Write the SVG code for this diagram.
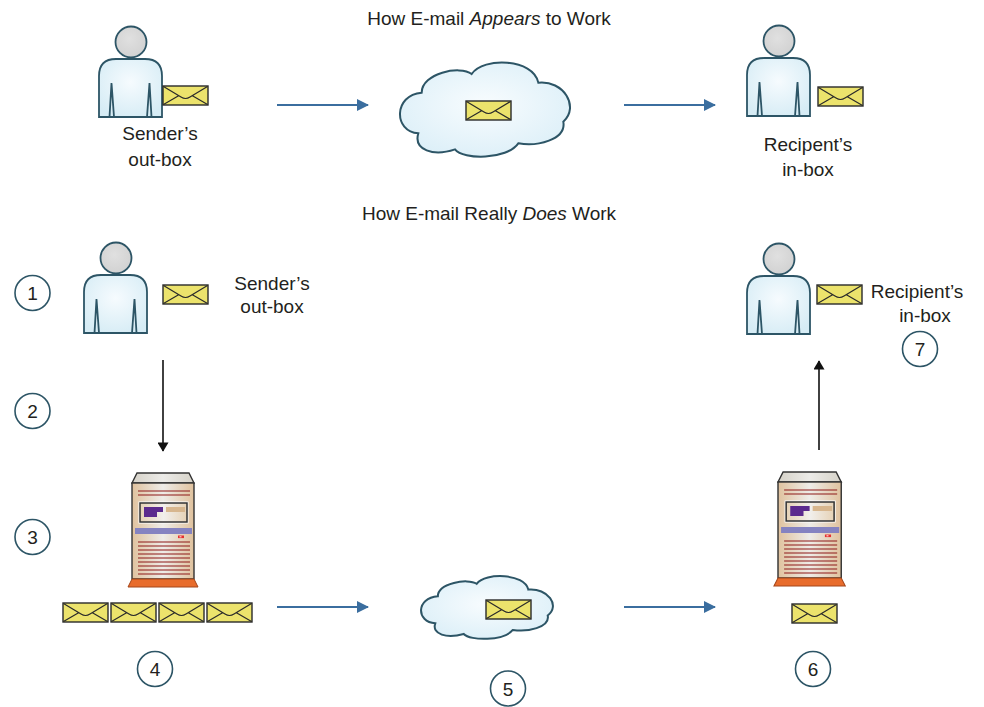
<svg xmlns="http://www.w3.org/2000/svg" xmlns:xlink="http://www.w3.org/1999/xlink" width="984" height="707" viewBox="0 0 984 707">
  <style>
    .lbl { font-family: "Liberation Sans", Arial, sans-serif; font-size: 19px; fill: #231f20; }
    .num { font-family: "Liberation Sans", Arial, sans-serif; font-size: 19px; fill: #231f20; text-anchor: middle; }
    .ring { fill: #ffffff; stroke: #2d5566; stroke-width: 1.6; }
    .outline { stroke: #2d5566; stroke-width: 1.8; }
    .flow { stroke: #3b6e9f; stroke-width: 2; fill: none; }
    .step { stroke: #111111; stroke-width: 1.6; fill: none; }
    .env { fill: #ece36c; stroke: #2a2a2a; stroke-width: 1.4; }
    .envline { fill: none; stroke: #2a2a2a; stroke-width: 1.2; }
    .redline { stroke: #8e1818; stroke-width: 1.1; }
    .cloud { fill: url(#cloudFill); stroke: #2d5566; stroke-width: 2; vector-effect: non-scaling-stroke; }
  </style>
  <defs>
    <radialGradient id="bodyFill" cx="50%" cy="40%" r="65%">
      <stop offset="0" stop-color="#f6fbfe"/>
      <stop offset="1" stop-color="#d6ecf5"/>
    </radialGradient>
    <radialGradient id="headFill" cx="45%" cy="40%" r="60%">
      <stop offset="0" stop-color="#e0e0e0"/>
      <stop offset="1" stop-color="#d2d2d2"/>
    </radialGradient>
    <radialGradient id="cloudFill" cx="50%" cy="45%" r="60%">
      <stop offset="0" stop-color="#f8fcfe"/>
      <stop offset="1" stop-color="#dceff8"/>
    </radialGradient>
    <linearGradient id="caseFill" x1="0" y1="0" x2="1" y2="0">
      <stop offset="0" stop-color="#e0c29e"/>
      <stop offset="0.5" stop-color="#eeece8"/>
      <stop offset="1" stop-color="#e0c29e"/>
    </linearGradient>
    <linearGradient id="lidFill" x1="0" y1="0" x2="1" y2="0">
      <stop offset="0" stop-color="#d6d2c8"/>
      <stop offset="0.5" stop-color="#ecebe8"/>
      <stop offset="1" stop-color="#d6d2c8"/>
    </linearGradient>
    <linearGradient id="screenFill" x1="0" y1="0" x2="1" y2="0">
      <stop offset="0" stop-color="#e6d2b6"/>
      <stop offset="0.5" stop-color="#f1efec"/>
      <stop offset="1" stop-color="#e6d2b6"/>
    </linearGradient>

    <marker id="blueHead" markerUnits="userSpaceOnUse" markerWidth="12" markerHeight="12" viewBox="0 0 12 12" refX="11" refY="6" orient="auto">
      <path d="M0,0 L12,6 L0,12 Z" fill="#3b6e9f"/>
    </marker>
    <marker id="blackHead" markerUnits="userSpaceOnUse" markerWidth="13" markerHeight="11" viewBox="0 0 11 13" refX="10" refY="6.5" orient="auto">
      <path d="M0,0 L11,6.5 L0,13 Z" fill="#111111"/>
    </marker>

    <!-- envelope, 45 x 19 -->
    <g id="envelope">
      <rect class="env" x="0" y="0" width="45" height="19"/>
      <path class="envline" d="M0.5,0.5 L18,11 Q22.5,14 27,11 L44.5,0.5 M0.5,18.5 L16,9.6 M44.5,18.5 L29,9.6"/>
    </g>

    <!-- person: body box 63 x 58 with the head above -->
    <g id="person">
      <path class="outline" fill="url(#bodyFill)" d="M0,58 L0,17 Q0,0 17,0 L46,0 Q63,0 63,17 L63,58 Z"/>
      <path class="outline" fill="none" stroke-width="1.3" d="M12.5,24 L10.5,58 M12.5,24 L15,58 M50.5,24 L48,58 M50.5,24 L52.5,58"/>
      <circle class="outline" fill="url(#headFill)" cx="32" cy="-17" r="15.5"/>
    </g>

    <!-- cloud outline -->
    <path id="cloudShape" class="cloud" d="M95,128 C95,70 210,45 245,72 C280,20 430,25 445,98 C520,90 570,170 520,215 C530,270 440,290 385,280 C350,330 220,330 195,298 C130,320 70,300 85,250 C10,245 10,135 95,128 Z"/>

    <!-- tower server, body 62 wide -->
    <g id="server">
      <polygon points="5,0 57,0 62,10 0,10" fill="url(#lidFill)" stroke="#333333" stroke-width="1.4"/>
      <rect x="0" y="10" width="62" height="96" fill="url(#caseFill)" stroke="#333333" stroke-width="1.4"/>
      <polygon points="0,106 62,106 66,114 -4,114" fill="#e86c2c" stroke="#a4461a" stroke-width="1"/>
      <line class="redline" x1="6" y1="18" x2="58" y2="18"/>
      <line class="redline" x1="6" y1="22" x2="58" y2="22"/>
      <rect x="6.5" y="28.5" width="50" height="22" fill="#ffffff"/>
      <rect x="8" y="30" width="47" height="19" fill="url(#screenFill)" stroke="#333333" stroke-width="1.5"/>
      <path d="M12,34 H31 V39 H25 V44 H12 Z" fill="#5b2a8e"/>
      <rect x="34" y="34" width="19" height="5" fill="#d7b68e"/>
      <rect x="3" y="55" width="57" height="6" fill="#8583c1"/>
      <rect x="46" y="62.5" width="6" height="2.6" fill="#e53030"/>
      <rect x="47.5" y="63.2" width="2" height="1.2" fill="#ffd0d0"/>
      <g class="redline">
        <line x1="6" y1="69" x2="58" y2="69"/>
        <line x1="6" y1="73" x2="58" y2="73"/>
        <line x1="6" y1="77" x2="58" y2="77"/>
        <line x1="6" y1="81" x2="58" y2="81"/>
        <line x1="6" y1="85" x2="58" y2="85"/>
        <line x1="6" y1="89" x2="58" y2="89"/>
        <line x1="6" y1="93" x2="58" y2="93"/>
        <line x1="6" y1="97" x2="58" y2="97"/>
        <line x1="6" y1="101" x2="58" y2="101"/>
      </g>
    </g>
  </defs>

  <rect width="984" height="707" fill="#ffffff"/>

  <!-- headings -->
  <text class="lbl" x="489" y="25" text-anchor="middle">How E-mail <tspan font-style="italic">Appears</tspan> to Work</text>
  <text class="lbl" x="489" y="220" text-anchor="middle">How E-mail Really <tspan font-style="italic">Does</tspan> Work</text>

  <!-- ===== upper row: apparent path ===== -->
  <g id="sender-top">
    <use xlink:href="#person" href="#person" transform="translate(99,59)"/>
    <use xlink:href="#envelope" href="#envelope" x="163" y="86"/>
    <text class="lbl" x="160" y="140" text-anchor="middle">Sender’s</text>
    <text class="lbl" x="160" y="166" text-anchor="middle">out-box</text>
  </g>

  <g id="cloud-top">
    <use xlink:href="#cloudShape" href="#cloudShape" transform="translate(390,50) scale(0.3333)"/>
    <use xlink:href="#envelope" href="#envelope" x="466" y="101"/>
  </g>

  <g id="recipient-top">
    <use xlink:href="#person" href="#person" transform="translate(747,58)"/>
    <use xlink:href="#envelope" href="#envelope" x="818" y="87"/>
    <text class="lbl" x="808" y="151" text-anchor="middle">Recipent’s</text>
    <text class="lbl" x="808" y="176" text-anchor="middle">in-box</text>
  </g>

  <!-- ===== lower row: actual path ===== -->
  <g id="sender-bottom">
    <use xlink:href="#person" href="#person" transform="translate(84,275)"/>
    <use xlink:href="#envelope" href="#envelope" x="163" y="285"/>
    <text class="lbl" x="272" y="290" text-anchor="middle">Sender’s</text>
    <text class="lbl" x="272" y="313" text-anchor="middle">out-box</text>
  </g>

  <g id="server-outgoing">
    <use xlink:href="#server" href="#server" transform="translate(132,473)"/>
    <use xlink:href="#envelope" href="#envelope" x="63" y="603"/>
    <use xlink:href="#envelope" href="#envelope" x="111" y="603"/>
    <use xlink:href="#envelope" href="#envelope" x="159" y="603"/>
    <use xlink:href="#envelope" href="#envelope" x="207" y="603"/>
  </g>

  <g id="cloud-bottom">
    <use xlink:href="#cloudShape" href="#cloudShape" transform="translate(413.3,567.8) scale(0.2585,0.222)"/>
    <use xlink:href="#envelope" href="#envelope" x="486" y="600"/>
  </g>

  <g id="server-incoming">
    <use xlink:href="#server" href="#server" transform="translate(778,472) scale(1.02,1)"/>
    <use xlink:href="#envelope" href="#envelope" x="792" y="604"/>
  </g>

  <g id="recipient-bottom">
    <use xlink:href="#person" href="#person" transform="translate(747,276)"/>
    <use xlink:href="#envelope" href="#envelope" x="817" y="285"/>
    <text class="lbl" x="917" y="298" text-anchor="middle">Recipient’s</text>
    <text class="lbl" x="925" y="322" text-anchor="middle">in-box</text>
  </g>

  <!-- step numbers -->
  <g id="steps">
    <g id="step-1"><circle class="ring" cx="32.5" cy="293" r="17.5"/><text class="num" x="32.5" y="300">1</text></g>
    <g id="step-2"><circle class="ring" cx="32.5" cy="411" r="17.5"/><text class="num" x="32.5" y="418">2</text></g>
    <g id="step-3"><circle class="ring" cx="32.5" cy="537" r="17.5"/><text class="num" x="32.5" y="544">3</text></g>
    <g id="step-4"><circle class="ring" cx="155" cy="669" r="17.5"/><text class="num" x="155" y="676">4</text></g>
    <g id="step-5"><circle class="ring" cx="508" cy="688.5" r="17.5"/><text class="num" x="508" y="695.5">5</text></g>
    <g id="step-6"><circle class="ring" cx="813" cy="669" r="17.5"/><text class="num" x="813" y="676">6</text></g>
    <g id="step-7"><circle class="ring" cx="920" cy="349" r="17.5"/><text class="num" x="920" y="356">7</text></g>
  </g>

  <!-- connectors -->
  <g id="connectors">
    <line class="flow" x1="277" y1="105" x2="368" y2="105" marker-end="url(#blueHead)"/>
    <line class="flow" x1="624" y1="105" x2="715" y2="105" marker-end="url(#blueHead)"/>
    <line class="flow" x1="277" y1="607" x2="368" y2="607" marker-end="url(#blueHead)"/>
    <line class="flow" x1="624" y1="607" x2="715" y2="607" marker-end="url(#blueHead)"/>
    <line class="step" x1="163" y1="360" x2="163" y2="451" marker-end="url(#blackHead)"/>
    <line class="step" x1="819" y1="450" x2="819" y2="361" marker-end="url(#blackHead)"/>
  </g>
</svg>
